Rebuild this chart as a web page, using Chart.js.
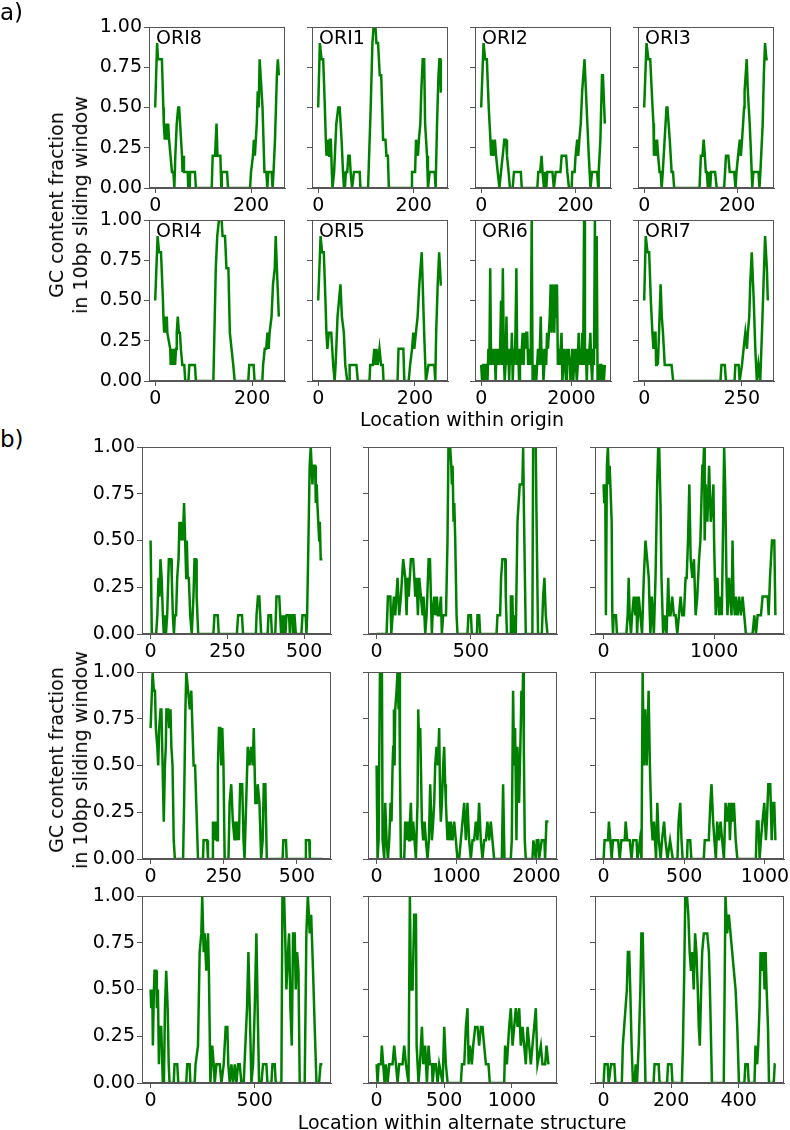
<!DOCTYPE html>
<html>
<head>
<meta charset="utf-8">
<script src="https://cdn.jsdelivr.net/npm/chart.js@4.4.1/dist/chart.umd.min.js"></script>
<style>
  body { margin: 0; background: #fff; }
  #fig { position: relative; width: 790px; height: 1130px; font-family: "DejaVu Sans", sans-serif; color: #000; }
  #fig canvas { position: absolute; }
  .txt { position: absolute; font-size: 19px; line-height: 1; white-space: nowrap; }
  .ylab { position: absolute; font-size: 19px; line-height: 24px; text-align: center; white-space: nowrap;
          transform: translate(-50%, -50%) rotate(-90deg); }
</style>
</head>
<body>
<div id="fig"></div>
<script>
// GC fraction in a 10bp window, [position, value]

// a) origins
const ori8 = [[0,.5],[4,.9],[6,.8],[14,.8],[17,.5],[18,.4],[20,.3],[21,.4],[22,.3],[24,.4],[25,.3],[27,.4],[29,.3],[32,.2],[35,.1],[38,.1],[40,0],[42,.2],[45,.4],[48,.5],[50,.5],[52,.4],[54,.3],[56,.2],[57,.1],[59,.2],[60,.1],[68,.1],[69,0],[72,0],[73,.1],[83,.1],[85,0],[118,0],[120,.2],[125,.2],[128,.4],[130,.2],[136,.2],[138,0],[139,.1],[150,.1],[152,0],[198,0],[200,.1],[204,.2],[206,.3],[208,.2],[210,.3],[212,.4],[214,.6],[216,.5],[218,.8],[220,.7],[224,.5],[226,.3],[228,.1],[232,.1],[234,0],[236,.1],[243,.1],[245,0],[247,.1],[250,.3],[254,.7],[256,.8],[258,.7]];
const ori1 = [[0,.5],[3.5,.9],[7,.8],[10.5,.8],[14,.5],[16,.3],[17.4,.2],[21,.3],[23,.2],[24.4,.3],[26.5,.3],[28.6,.1],[30,0],[33.4,.1],[38,.4],[42,.5],[45,.5],[49,.3],[52,.1],[54,0],[56,0],[58,.1],[61,.1],[63,.2],[66,.2],[68,.1],[71,0],[75,.1],[87,.1],[88.5,0],[104.5,0],[110,.5],[113.6,.9],[116,1],[120,1],[122,.9],[125.4,.9],[129,.7],[132,.7],[136,.3],[141,.3],[143,.2],[146,.2],[148,0],[195,0],[196.5,.1],[203,.1],[205,.3],[209,.2],[211,.3],[214,.4],[216,.6],[219,.8],[222,.8],[224,.4],[228,.2],[230,0],[233.5,.1],[244,.1],[246,0],[249,.4],[252,.7],[254,.8],[255.5,.8],[257,.6],[259,.6]];
const ori2 = [[0,.5],[5,.9],[8.4,.8],[12,.8],[16,.5],[19.6,.3],[21,.2],[23,.3],[26,.2],[29,.3],[31.6,.2],[35,.1],[38.6,0],[42,.1],[45.6,.2],[49,.3],[52.6,.3],[54.7,.2],[58,.1],[61,0],[66.7,0],[69.5,.1],[84,.1],[86,0],[119,0],[121,.1],[125,.1],[128,.2],[130,.1],[133,0],[135,.1],[138,0],[140,.1],[151,.1],[154,0],[158,.1],[168,.1],[170.5,.2],[180,.2],[182.5,.1],[186,0],[191.6,0],[193,.1],[198,.1],[200,.2],[203.5,.3],[205.6,.2],[208,.3],[211,.4],[214,.6],[219,.8],[222,.6],[225,.4],[228,.2],[231.6,0],[235,.1],[245.6,.1],[248,0],[249,.1],[252.6,.3],[256,.7],[258,.7],[262,.4]];
const ori3 = [[0,.5],[5,.9],[9,.8],[13,.8],[18,.5],[20,.4],[21,.2],[23,.3],[25.5,.2],[27.7,.3],[30,.2],[33,.1],[35.5,.1],[37.6,0],[40,.1],[44,.3],[48,.5],[50,.5],[55,.3],[59,.1],[62,.1],[64.5,0],[119,0],[122,.2],[125.5,.2],[128,.3],[130.5,.2],[132.6,.1],[134.8,.1],[137,0],[139,.1],[142,0],[144,.1],[152.5,.1],[156,0],[172,0],[176,.2],[181,.2],[184,.1],[193.6,.1],[196.5,0],[198.6,.1],[202,.2],[205.7,.3],[208,.2],[210.6,.3],[215,.5],[216,.6],[220.6,.8],[223,.6],[227,.4],[230,.2],[232.6,0],[234.8,.1],[246,.1],[248,0],[250,.1],[255,.4],[257.4,.7],[260,.9],[263,.8],[266,.8]];
const ori4 = [[0,.5],[5,.9],[8,.8],[12,.8],[16,.5],[17,.4],[18.5,.3],[20.5,.4],[22,.3],[24,.4],[25,.3],[31,.2],[32,.1],[34,.2],[36,.1],[38,.2],[41,.1],[43,.2],[44.5,.3],[46.6,.4],[49,.3],[51,.3],[53,.2],[56,.1],[60,.1],[62,0],[68.5,0],[70.5,.1],[82,.1],[84,0],[120,0],[125,.7],[128,.9],[131.5,1],[137,1],[139,.9],[144,.9],[147,.7],[151,.7],[154,.3],[157.5,.2],[161,.1],[164,0],[192,0],[194,.1],[203,.1],[205,0],[221,0],[222.6,.1],[226,.2],[229,.2],[231.5,.3],[234,.2],[236,.3],[240,.4],[243,.6],[246.6,.7],[248.6,.9],[251,.7],[255,.4]];
const ori5 = [[0,.5],[5,.9],[8,.8],[11.6,.8],[15,.5],[17,.3],[19,.2],[22,.3],[27,.3],[31,.1],[34,0],[36,.1],[40,.4],[43,.5],[46,.6],[49,.4],[53,.3],[56,.1],[60,0],[64,0],[65,.1],[79,.1],[82,0],[106,0],[107.5,.1],[113,.1],[116,.2],[118.5,.1],[120.5,.2],[123,.1],[126.7,.2],[130,.1],[133.5,.1],[135,0],[164,0],[166,.2],[176,.2],[178,0],[187,0],[190,.1],[194,.2],[196.6,.3],[198.6,.2],[202,.3],[205.5,.4],[209,.6],[214,.8],[216,.6],[219,.3],[222.6,0],[228,.1],[240,.1],[242,0],[243.8,.3],[247,.6],[250,.8],[253.4,.6],[255.5,.6]];
const ori6Step = 20;
const ori6Vals = [0.1,0,0.1,0.1,0,0.1,0.1,0,0.2,0.1, 0.7,0.1,0.2,0.2,0.1,0.2,0,0.2,0.1,0.2,
  0.1,0.2,0.5,0.1,0.7,0.2,0,0.1,0.4,0.1, 0.2,0,0.2,0.1,0.3,0,0.2,0.1,0.3,0.7,
  0.1,0.2,0,0.2,0.1,0.2,0.3,0.1,0.3,0.2, 0.3,0.3,0.1,0.2,0.1,0.2,1.0,0,0.1,0,
  0.1,0,0.1,0.2,0.1,0.2,0.4,0.1,0.2,0, 0.1,0.2,0.1,0.3,0.2,0.3,0.4,0.6,0.3,0.6,
  0.5,0.3,0.6,0.4,0.6,0.1,0.2,0.1,0.2,0.3, 0,0.1,0.2,0.1,0,0.2,0.1,0.2,0.1,0,
  0.1,0.2,0,0.1,0.2,0.1,0,0.1,0.3,0.1, 0.2,0.1,0.3,0.1,1.0,0.1,0.2,0,0.2,0.1,
  0.2,0.3,0.1,0,0.2,0.1,1.0,0.2,0.9,0, 0.1,0,0.1,0.1,0,0.1,0,0.1];
const ori6 = ori6Vals.map((v, i) => [i * ori6Step, v]);
const ori7 = [[0,.5],[4,.9],[8.5,.8],[12.7,.8],[17,.5],[21,.3],[23.7,.2],[26,.3],[29,.3],[30.5,.1],[32,.2],[35,.1],[38,.3],[42,.6],[45,.4],[48,.3],[52.5,.1],[59,.1],[70,.1],[74,0],[195,0],[197.5,.1],[206,.1],[209,0],[231,0],[233,.1],[241.5,.1],[244,0],[250,.1],[254,.2],[258.5,.3],[262.7,.2],[265,.3],[268.6,.4],[271,.6],[275,.8],[280,.5],[284,.2],[288,0],[292,.1],[296.6,0],[301,.3],[305,.6],[309,.9],[313.6,.7],[316,.5]];

// b) alternate structures
const alt1 = [[0,.5],[4,0],[18,0],[22,.1],[26,.3],[29,.2],[32,.4],[36,.3],[40,.1],[43,0],[46.5,.1],[50,0],[54,.1],[56,.1],[59.5,.4],[67,.4],[69,.3],[72.5,.1],[76,0],[79,.1],[83,.1],[86.6,.3],[91,.4],[94,.6],[97,.5],[102,.6],[105,.5],[109,.7],[112.5,.5],[116,.3],[118,.5],[121,.3],[124.5,.3],[129,.1],[134,0],[139.6,.2],[143,.4],[148,.4],[150,.2],[155,0],[204.5,0],[208,.1],[218.6,.1],[222,0],[281,0],[285,.1],[297.6,.1],[301,0],[343,0],[345,.1],[349.6,.2],[354,.2],[357,.1],[360,0],[381,0],[384,.1],[392,.1],[395,0],[406,0],[410,.2],[419,.2],[422,.1],[425,0],[429.6,.1],[433,0],[436,.1],[439,0],[442.6,.1],[451,.1],[453.5,0],[455.6,.1],[462,.1],[464,0],[466,.1],[468.6,.1],[473,0],[491,0],[494.6,.1],[505,.1],[507.6,0],[509.7,.1],[512,.1],[514,.5],[518,.9],[521.6,1],[527,.8],[530,.9],[535.7,.9],[538,.7],[541,.8],[543,.7],[549,.5],[551,.6],[554,.4],[559.5,.4]];
const alt2 = [[0,0],[53,0],[60,.2],[73,.2],[78,0],[85,.1],[92,.2],[99,.1],[111,.3],[120,.1],[129,.2],[141,.4],[152,.3],[159,.1],[164,.3],[170,.2],[182,.4],[194,.4],[200,.3],[205,.2],[212,.3],[219,.1],[226,.3],[235,.2],[244,.1],[249,.2],[258,0],[265,.1],[276,.4],[283,.4],[288,.2],[293,0],[297,.1],[306,.2],[311,.1],[320,.2],[325,.1],[332,.1],[341,.2],[346,0],[353,.1],[368,.1],[376,.5],[381,1],[390,1],[396,.9],[399,.8],[403,.9],[408,.6],[412,.7],[417,.5],[424,.1],[429,0],[482,0],[487,.1],[500,.1],[505,0],[532,0],[535,.1],[544,.1],[549,0],[636,0],[641,.1],[655,.1],[660,.3],[667,.4],[682,.4],[685,.2],[691,0],[708,0],[712,.2],[720,.2],[724,0],[729,.1],[738,0],[747,.6],[759,.8],[773,.8],[777,1],[782,.6],[791,0],[826,0],[830,1],[844,1],[847,.7],[856,0],[876,0],[883,.2],[890,.3],[897,.1],[906,0],[911,0]];
const alt3 = [[0,.8],[6,.7],[15,.8],[21,.1],[30,.9],[39,1],[48,.8],[55,.9],[61,.8],[73,.6],[79,.1],[85,0],[91,.1],[112,.1],[121,0],[206,0],[218,.1],[227,.3],[236,.1],[248,0],[258,.1],[273,.2],[288,.1],[297,.2],[303,0],[318,.2],[333,.1],[348,0],[364,.3],[379,.5],[394,.4],[409,.3],[418,.1],[424,0],[436,.2],[455,0],[470,.3],[485,.8],[494,1],[503,1],[515,.7],[524,.3],[539,0],[552,.1],[570,0],[585,.3],[594,.1],[606,.1],[621,.2],[636,.1],[652,.1],[667,0],[682,.1],[697,.2],[712,.1],[727,.1],[742,.3],[752,.3],[764,.5],[776,.8],[788,.4],[803,.3],[818,.4],[833,.1],[848,.2],[864,.4],[876,.5],[885,.7],[894,.9],[903,.9],[909,1],[915,.5],[924,.8],[939,.6],[955,.9],[970,.6],[985,.7],[994,.8],[1000,.5],[1015,.1],[1030,.3],[1045,.1],[1061,.2],[1070,.1],[1082,.6],[1091,1],[1100,.8],[1112,.3],[1121,.1],[1136,.3],[1145,.2],[1158,.1],[1167,.5],[1176,.2],[1188,.1],[1197,.2],[1212,.1],[1227,.2],[1242,.1],[1258,.2],[1273,.1],[1288,0],[1348,0],[1364,.1],[1379,0],[1394,.1],[1424,.1],[1439,.2],[1470,.2],[1485,.2],[1494,.1],[1506,.3],[1515,.4],[1524,.5],[1545,.5],[1555,.1]];
const alt4 = [[0,.7],[7,1],[11,.9],[15,.9],[18,.7],[23,.6],[26,.5],[29.5,.7],[34,.8],[37,.8],[41,.5],[45,.2],[49,.5],[52,.6],[54,.8],[60,.8],[63.5,.7],[68,.8],[71,.6],[75,.5],[79,.1],[83,0],[111,0],[114.5,.3],[119,.8],[122,1],[128,.9],[134,.8],[139,.9],[143,.7],[147,.5],[152,.5],[156,.3],[162,0],[179,0],[181,.1],[193,.1],[196,0],[211,0],[213,.2],[219,.1],[222,.2],[227,.1],[230,.5],[233.6,.7],[238,.7],[241.5,.5],[245,.7],[249,.5],[253,0],[266,0],[270,.3],[275.5,.4],[281,.2],[287,.1],[290,.2],[295,.1],[298,.2],[301.6,.1],[306,.4],[313,.4],[317.5,.1],[321,0],[326.5,.3],[332,.6],[338,.5],[343.5,.6],[349,.5],[352.6,.7],[358,.3],[363,.3],[366,.4],[372,.3],[377.6,0],[383,.1],[386.6,.4],[392,.4],[397,0],[451,0],[453.5,.1],[462.6,.1],[465,0],[528,0],[530.6,.1],[542,.1],[544,0],[587,0]];
const alt5 = [[0,.5],[12,0],[25,.1],[42,1],[67,1],[75,.1],[96,0],[108,.3],[125,.1],[142,0],[158,.1],[175,.3],[187,.2],[200,.5],[208,.6],[217,.8],[225,.5],[233,.8],[242,.8],[250,.9],[262,1],[275,.8],[283,1],[292,.5],[304,0],[346,0],[358,.2],[375,.1],[387,.2],[408,.1],[417,.2],[429,.3],[442,.1],[458,.2],[475,.1],[492,0],[512,.3],[521,.8],[533,.6],[546,.7],[554,.7],[567,.2],[583,.1],[600,.2],[617,.1],[637,0],[654,.1],[671,.4],[692,.1],[708,.2],[721,.3],[733,.5],[750,.6],[767,.5],[783,.7],[796,.3],[804,.2],[817,.3],[833,.5],[846,.6],[858,.4],[867,.3],[887,.1],[900,.2],[917,.1],[929,.2],[950,.1],[971,.2],[992,.1],[1012,0],[1033,0],[1054,.1],[1075,.2],[1096,.3],[1117,.1],[1137,.3],[1158,.1],[1179,0],[1200,.1],[1221,.1],[1242,.2],[1262,.1],[1283,.3],[1304,.1],[1325,0],[1346,.1],[1367,.1],[1387,.2],[1408,.1],[1429,.2],[1450,.1],[1471,0],[1567,0],[1583,.4],[1600,0],[1679,0],[1692,.1],[1708,.9],[1721,.5],[1733,.7],[1750,.1],[1762,.6],[1783,.3],[1804,.7],[1812,.9],[1825,.8],[1833,1],[1842,.6],[1854,.1],[1867,0],[1950,0],[1962,.1],[1992,0],[2004,.1],[2025,.1],[2033,0],[2067,.1],[2100,.1],[2108,0],[2125,.2],[2150,.2]];
const alt6 = [[0,0],[6,.1],[27,.1],[33,.2],[42,.1],[50,0],[58,.1],[79,.1],[90,.1],[100,0],[110,.1],[131,.1],[137,.2],[146,.1],[162,.1],[173,0],[183,.1],[204,.1],[210,0],[225,.1],[235,0],[242,1],[250,.5],[258,.8],[267,.5],[279,.9],[287,.5],[296,.2],[304,.1],[312,.2],[319,.1],[325,0],[333,.3],[342,.1],[354,0],[362,.1],[375,.2],[383,.1],[396,0],[412,.1],[429,0],[458,0],[465,.2],[475,.3],[483,.1],[490,0],[517,0],[521,.1],[537,.1],[544,0],[621,0],[627,.1],[652,.1],[662,.3],[669,.4],[679,.2],[687,.1],[696,0],[704,.2],[715,.1],[725,.2],[735,.1],[746,0],[756,.3],[767,.2],[777,.3],[783,.1],[792,.3],[800,.2],[808,.3],[819,.1],[829,0],[944,0],[950,.2],[960,.2],[967,0],[975,.1],[985,.2],[996,.3],[1006,.1],[1012,.2],[1021,.4],[1033,.4],[1042,.1],[1050,.3],[1058,.3],[1065,.1]];
const alt7 = [[0,.5],[3,.4],[8,.5],[11,.2],[16,.5],[19,.6],[27,.6],[30,.4],[35,.5],[40,.1],[43,.3],[51,.3],[56,.1],[59,0],[64,0],[69,.4],[75,.6],[82,.4],[87,.1],[91,0],[111,0],[115,.1],[128,.1],[133,0],[171,0],[176,.1],[187.5,.1],[191,0],[211.5,0],[216,.1],[227.6,.2],[235.6,.7],[243.6,.8],[248,1],[255,.7],[259.6,.8],[267.6,.6],[275.6,.8],[280,.6],[287,0],[296,.2],[303,.1],[308,0],[316,.1],[332,.1],[340,0],[351,.1],[360.6,.3],[368.6,.3],[373,.1],[380,0],[388,.1],[396,0],[404,.1],[412,0],[420,.1],[428,.1],[436,0],[447,0],[455,.2],[463,.4],[469.6,.7],[476,.4],[484,0],[492,.1],[500,.4],[508,.8],[514,.4],[521,0],[532,0],[540,.1],[556,.1],[561,0],[580,0],[585,.1],[596,.1],[601,0],[628,0],[633,1],[641,1],[646,.8],[652,.5],[660,.7],[665,.8],[671.5,.4],[678,.2],[684,.8],[692,.8],[697,.5],[703.5,.7],[710,.6],[716,0],[740,0],[748,.8],[755,1],[760,.9],[764,.8],[771,.9],[780,.6],[788,.3],[796.5,0],[809,0],[816,.1],[825,.1]];
const alt8 = [[0,.1],[7,0],[15,.1],[32,.1],[39,.2],[49,.1],[59,0],[69,.1],[81,0],[94,.1],[118,.1],[130,.2],[143,.1],[155,0],[167,.1],[192,.1],[204,.2],[217,.1],[236,0],[246,1],[254,.5],[266,.5],[278,.9],[291,.9],[296,.2],[310,0],[320,.1],[335,.3],[345,.1],[359,.2],[372,0],[384,.2],[394,.1],[409,.1],[414,0],[426,.1],[438,.1],[451,0],[463,.1],[488,0],[500,.3],[512,.1],[525,0],[623,0],[631,.1],[648,.1],[660,.3],[672,.4],[680,.1],[690,.2],[704,.1],[714,.2],[729,.3],[746,.3],[758,.2],[771,.3],[783,.3],[795,.2],[808,.1],[827,.1],[837,0],[943,0],[950,.2],[963,.1],[980,.3],[992,.4],[1005,.2],[1017,.3],[1029,.4],[1042,.3],[1054,.4],[1066,.2],[1079,.3],[1091,.2],[1103,.1],[1116,.3],[1128,.2],[1140,.1],[1152,.2],[1165,.3],[1177,.4],[1189,.1],[1214,.2],[1226,.1],[1246,.1],[1256,.2],[1270,.1]];
const alt9 = [[0,0],[3,.1],[12,.1],[15,0],[22,.1],[32,.1],[35,0],[54,0],[57,.2],[61,.3],[65,.4],[69,.5],[72,.7],[76,.7],[79,.5],[83,.2],[87,0],[92,0],[95,.1],[99,0],[104,.2],[109,.5],[112,.8],[116,.8],[119,.5],[124,0],[148,0],[151,.1],[163,.1],[166,0],[188,0],[191,.1],[201,.1],[204,0],[232,0],[235,.2],[239,.6],[242,1],[247,1],[251,.9],[255,.7],[259,.6],[263,.7],[267,.5],[271,.8],[275,.7],[279,.5],[282,.3],[285,.2],[289,.5],[292,.7],[297,.8],[307,.8],[312,.7],[315,.5],[321,0],[356,0],[359,.6],[361,1],[366,.8],[371,.9],[376,.8],[381,.7],[386,.6],[391,.5],[396,.3],[401,0],[417,0],[420,.1],[427,.1],[430,0],[447,0],[450,.2],[455,.1],[458,.2],[462,.4],[465,.7],[470,.6],[473,.7],[477,.5],[480,.7],[483,.5],[487,.3],[490,0],[504,0],[507,.1],[509,.1]];

// tick labels
const yTicks = [0, 0.25, 0.5, 0.75, 1];
const ticks200 = [0, 200];
const ticks2000 = [0, 2000];
const ticks250 = [0, 250];

const oriNames = ['ORI8', 'ORI1', 'ORI2', 'ORI3', 'ORI4', 'ORI5', 'ORI6', 'ORI7'];
const oriSeries = [ori8, ori1, ori2, ori3, ori4, ori5, ori6, ori7];
const oriTicks = [ticks200, ticks200, ticks200, ticks200, ticks200, ticks200, ticks2000, ticks250];

const altSeries = [alt1, alt2, alt3, alt4, alt5, alt6, alt7, alt8, alt9];
const altTicks = [[0, 250, 500], [0, 500], [0, 1000], [0, 250, 500], [0, 1000, 2000], [0, 500, 1000], [0, 500], [0, 500, 1000], [0, 200, 400]];

// layout (pixels)
const aLefts = [149, 312, 475, 638], aTops = [27, 220], aW = 136, aH = 161;
const bLefts = [142, 368, 595], bTops = [447, 672, 896], bW = 189, bH = 187;
const FONT = 'DejaVu Sans';
const GREEN = '#008000';
const L = 60, T = 14, R = 34, B = 36;

const fig = document.getElementById('fig');

const framePlugin = {
  id: 'frame',
  afterDraw(chart) {
    const a = chart.chartArea, ctx = chart.ctx;
    ctx.save();
    ctx.strokeStyle = '#555';
    ctx.lineWidth = 1;
    ctx.strokeRect(Math.round(a.left) + 0.5, Math.round(a.top) + 0.5, Math.round(a.right - a.left) - 1, Math.round(a.bottom - a.top) - 1);
    ctx.restore();
  }
};

function addText(str, left, top, size, extra) {
  const d = document.createElement('div');
  d.className = 'txt';
  d.textContent = str;
  d.style.left = left + 'px';
  d.style.top = top + 'px';
  if (size) d.style.fontSize = size + 'px';
  if (extra) Object.assign(d.style, extra);
  fig.appendChild(d);
  return d;
}

function addYLabel(cx, cy) {
  const d = document.createElement('div');
  d.className = 'ylab';
  d.innerHTML = 'GC content fraction<br>in 10bp sliding window';
  d.style.left = cx + 'px';
  d.style.top = cy + 'px';
  fig.appendChild(d);
}

function makePlot(left, top, w, h, series, xticks, showY) {
  const cv = document.createElement('canvas');
  cv.width = w + L + R;
  cv.height = h + T + B;
  cv.style.width = cv.width + 'px';
  cv.style.height = cv.height + 'px';
  cv.style.left = (left - L) + 'px';
  cv.style.top = (top - T) + 'px';
  fig.appendChild(cv);

  const n = series[series.length - 1][0];
  const tickFont = { family: FONT, size: 19 };

  new Chart(cv, {
    type: 'line',
    data: {
      datasets: [{
        data: series.map(p => ({ x: p[0], y: p[1] })),
        borderColor: GREEN,
        borderWidth: 2.5,
        pointRadius: 0,
        tension: 0,
        fill: false
      }]
    },
    options: {
      responsive: false,
      animation: false,
      events: [],
      layout: { padding: { top: T, right: R, bottom: 0, left: 0 } },
      plugins: { legend: { display: false }, tooltip: { enabled: false } },
      scales: {
        x: {
          type: 'linear',
          min: -0.05 * n,
          max: 1.05 * n,
          afterBuildTicks: ax => { ax.ticks = xticks.map(v => ({ value: v })); },
          afterFit: s => { s.height = B; s.paddingLeft = 0; s.paddingRight = 0; },
          grid: { display: true, drawOnChartArea: false, drawTicks: true, tickLength: 5, color: '#555' },
          border: { display: true, color: '#555', width: 1 },
          ticks: { font: tickFont, color: '#000', padding: 2, maxRotation: 0, autoSkip: false, callback: v => String(v) }
        },
        y: {
          type: 'linear',
          min: 0,
          max: 1,
          afterBuildTicks: ax => { ax.ticks = yTicks.map(v => ({ value: v })); },
          afterFit: s => { s.width = L; s.paddingTop = 0; s.paddingBottom = 0; },
          grid: { display: true, drawOnChartArea: false, drawTicks: true, tickLength: 5, color: '#555' },
          border: { display: true, color: '#555', width: 1 },
          ticks: { font: tickFont, color: '#000', padding: 2, autoSkip: false, callback: v => showY ? v.toFixed(2) : '' }
        }
      }
    },
    plugins: [framePlugin]
  });
}

// panel a
oriSeries.forEach((s, i) => {
  const c = i % 4, r = Math.floor(i / 4);
  makePlot(aLefts[c], aTops[r], aW, aH, s, oriTicks[i], c === 0);
  addText(oriNames[i], aLefts[c] + 7, aTops[r] + 1, 19);
});

// panel b
altSeries.forEach((s, i) => {
  const c = i % 3, r = Math.floor(i / 3);
  makePlot(bLefts[c], bTops[r], bW, bH, s, altTicks[i], c === 0);
});

addText('a)', 0, 1, 23);
addText('b)', 0, 428, 23);
addYLabel(68, 205);
addYLabel(68, 760);
addText('Location within origin', 462, 410, 19, { transform: 'translateX(-50%)' });
addText('Location within alternate structure', 462, 1113, 19, { transform: 'translateX(-50%)' });
</script>
</body>
</html>
